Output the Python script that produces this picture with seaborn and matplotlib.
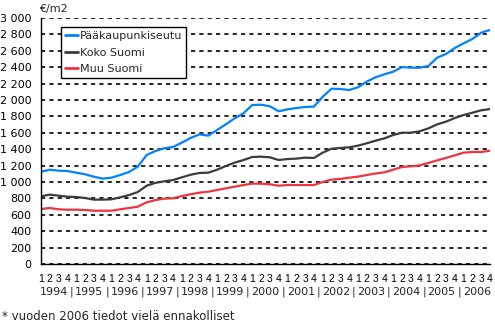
import matplotlib
matplotlib.use("Agg")
import matplotlib.pyplot as plt
import matplotlib.transforms as mtransforms
from matplotlib.lines import Line2D
from matplotlib.ticker import FuncFormatter
import numpy as np
import pandas as pd
import seaborn as sns

# Quarterly average price per square metre, 1994 Q1 - 2006 Q4
years = list(range(1994, 2007))
quarter_labels = ["1", "2", "3", "4"]

paakaupunkiseutu = [
    1126, 1150, 1138, 1134, 1114, 1094, 1065, 1041, 1053, 1085, 1122, 1187,
    1329, 1378, 1411, 1427, 1480, 1537, 1581, 1565, 1634, 1703, 1777, 1838,
    1939, 1943, 1923, 1862, 1886, 1902, 1915, 1919, 2040, 2138, 2134, 2122,
    2155, 2224, 2277, 2313, 2345, 2402, 2394, 2394, 2415, 2516, 2561, 2634,
    2691, 2744, 2821, 2854,
]
koko_suomi = [
    825, 846, 833, 821, 817, 805, 785, 785, 789, 813, 841, 878,
    955, 990, 1008, 1024, 1057, 1089, 1110, 1114, 1150, 1195, 1236, 1268,
    1305, 1309, 1301, 1268, 1280, 1285, 1297, 1293, 1358, 1406, 1415, 1423,
    1443, 1472, 1504, 1532, 1573, 1601, 1601, 1618, 1654, 1703, 1736, 1780,
    1817, 1845, 1874, 1890,
]
muu_suomi = [
    671, 683, 667, 662, 662, 659, 650, 650, 650, 667, 683, 699,
    752, 780, 797, 801, 829, 850, 870, 882, 902, 923, 943, 963,
    980, 980, 972, 955, 963, 963, 963, 963, 1000, 1029, 1037, 1053,
    1065, 1085, 1104, 1118, 1150, 1183, 1191, 1203, 1232, 1264, 1293, 1325,
    1358, 1366, 1366, 1382,
]

series_names = ["Pääkaupunkiseutu", "Koko Suomi", "Muu Suomi"]
series_colors = ["#0082FF", "#3C3C3C", "#EE3440"]

n = len(paakaupunkiseutu)
df = pd.DataFrame({
    "jakso": np.tile(np.arange(n), 3),
    "hinta": paakaupunkiseutu + koko_suomi + muu_suomi,
    "alue": np.repeat(series_names, n),
})

sns.set_style("white")
plt.rcParams["font.family"] = ["DejaVu Sans"]
plt.rcParams["font.size"] = 8

W, H = 495, 322
fig = plt.figure(figsize=(W / 100, H / 100), dpi=100)
ax = fig.add_axes([41 / W, 1 - 264 / H, (490 - 41) / W, (264 - 18) / H])

sns.lineplot(
    data=df, x="jakso", y="hinta", hue="alue", hue_order=series_names,
    palette=series_colors, linewidth=1.6, legend=False, ax=ax, zorder=3,
)

# axes
ax.set_xlim(0, n - 1)
ax.set_ylim(0, 3000)
ax.set_yticks(np.arange(0, 3001, 200))
ax.yaxis.set_major_formatter(FuncFormatter(lambda v, p: f"{v:,.0f}".replace(",", " ")))
ax.set_xticks(np.arange(n))
ax.set_xticklabels(quarter_labels * len(years), family="Liberation Sans")
ax.tick_params(axis="both", length=0, colors="black")
ax.tick_params(axis="y", pad=7, labelsize=8)
ax.tick_params(axis="x", pad=7, labelsize=7.5)
ax.set_xlabel("")
ax.set_ylabel("")

# dashed horizontal grid every 200
ax.set_axisbelow(True)
ax.yaxis.grid(True, which="major", color="#000000", linewidth=1.2,
              linestyle=(0, (2.5, 2.5)))
ax.xaxis.grid(False)

for side in ["top", "right"]:
    ax.spines[side].set_visible(False)
for side in ["left", "bottom"]:
    ax.spines[side].set_color("black")
    ax.spines[side].set_linewidth(1.0)
    ax.spines[side].set_zorder(4)

# year row with separators under the quarter numbers
trans = mtransforms.blended_transform_factory(ax.transData, ax.transAxes)
y_year = -28 / 246
for k, yr in enumerate(years):
    ax.text(4 * k + 1.5, y_year, str(yr), transform=trans, ha="center",
            va="center", fontsize=8, clip_on=False)
    if k > 0:
        ax.text(4 * k - 0.5, y_year, "|", transform=trans, ha="center",
                va="center", fontsize=8, clip_on=False)

# unit label and footnote
fig.text(39 / W, 1 - 9 / H, "€/m2", ha="left", va="center", fontsize=8)
fig.text(2 / W, 1 - 316 / H, "* vuoden 2006 tiedot vielä ennakolliset",
         ha="left", va="center", fontsize=8.5)

handles = [Line2D([], [], color=c, linewidth=2.0) for c in series_colors]
leg = ax.legend(
    handles, series_names, loc="upper left",
    bbox_to_anchor=(61 / W, 1 - 27 / H), bbox_transform=fig.transFigure,
    frameon=True, fancybox=False, edgecolor="black", framealpha=1,
    handlelength=1.2, handletextpad=0.15, labelspacing=0.6, borderpad=0.35,
    borderaxespad=0, fontsize=8,
)
leg.get_frame().set_linewidth(1.0)
leg.set_zorder(5)

fig.savefig("out.png", dpi=100, facecolor="white")
